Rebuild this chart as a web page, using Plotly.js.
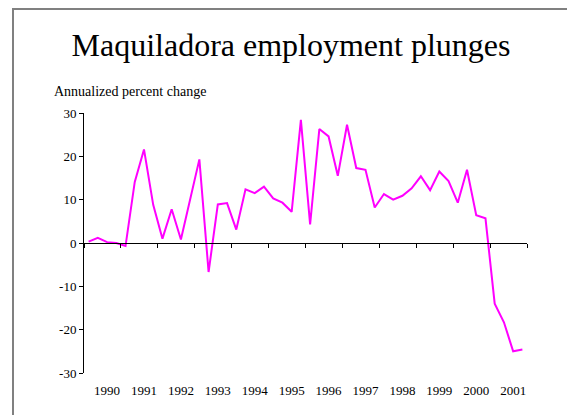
<!DOCTYPE html>
<html>
<head>
<meta charset="utf-8">
<script src="https://cdn.plot.ly/plotly-3.0.1.min.js"></script>
<style>
  html, body { margin: 0; padding: 0; background: #fff; }
  #wrap { position: relative; width: 567px; height: 415px; overflow: hidden; }
  #chart { width: 567px; height: 415px; }
  #frame { position: absolute; left: 12px; top: 8px; width: 600px; height: 450px;
           border-left: 2px solid #808080; border-top: 2px solid #808080; pointer-events: none; }
</style>
</head>
<body>
<div id="wrap">
  <div id="chart"></div>
  <div id="frame"></div>
</div>
<script>
// Quarterly data, 1990Q1 .. 2001Q4 (annualized percent change)
const quarterIndex = [];
for (let i = 0; i < 48; i++) quarterIndex.push(i);

const pctChange = [
  0.3, 1.2, 0.2, 0.0,        // 1990
  -0.7, 14.1, 21.6, 8.8,     // 1991
  1.0, 7.8, 0.8, 10.0,       // 1992
  19.3, -6.7, 8.9, 9.2,      // 1993
  3.1, 12.4, 11.5, 13.0,     // 1994
  10.3, 9.3, 7.2, 28.4,      // 1995
  4.3, 26.3, 24.6, 15.5,     // 1996
  27.3, 17.3, 16.9, 8.2,     // 1997
  11.3, 10.0, 10.9, 12.6,    // 1998
  15.4, 12.2, 16.5, 14.3,    // 1999
  9.3, 16.9, 6.4, 5.7,       // 2000
  -14.0, -18.3, -25.0, -24.6 // 2001
];

const yearLabels = ['1990','1991','1992','1993','1994','1995','1996','1997','1998','1999','2000','2001'];
const yearLabelPos = [2, 6, 10, 14, 18, 22, 26, 30, 34, 38, 42, 46];
const yearBoundaries = [-0.5, 3.5, 7.5, 11.5, 15.5, 19.5, 23.5, 27.5, 31.5, 35.5, 39.5, 43.5, 47.5];
const yTickVals = [-30, -20, -10, 0, 10, 20, 30];
const yTickText = ['-30', '-20', '-10', '0', '10', '20', '30'];

const FONT = '"Liberation Serif", "Times New Roman", Times, serif';

const trace = {
  x: quarterIndex,
  y: pctChange,
  type: 'scatter',
  mode: 'lines',
  line: { color: '#FF00FF', width: 2 },
  hoverinfo: 'skip',
  xaxis: 'x',
  yaxis: 'y'
};

const layout = {
  width: 567,
  height: 415,
  margin: { l: 84, r: 40, t: 113, b: 42 },
  paper_bgcolor: '#ffffff',
  plot_bgcolor: '#ffffff',
  showlegend: false,
  font: { family: FONT, color: '#000', size: 13 },
  title: {
    text: 'Maquiladora employment plunges',
    font: { family: FONT, size: 32, color: '#000' },
    xref: 'container', x: 291 / 567, xanchor: 'center',
    yref: 'container', y: 1 - 56 / 415, yanchor: 'bottom'
  },
  xaxis: {
    range: [-0.5, 47.5],
    tickmode: 'array',
    tickvals: yearLabelPos,
    ticktext: yearLabels,
    ticks: '',
    ticklabelstandoff: 8,
    showline: false,
    showgrid: false,
    zeroline: false,
    tickfont: { family: FONT, size: 13, color: '#000' },
    fixedrange: true
  },
  xaxis2: {
    overlaying: 'x',
    matches: 'x',
    anchor: 'free',
    position: 0.5,
    side: 'bottom',
    tickmode: 'array',
    tickvals: yearBoundaries,
    ticks: 'outside',
    ticklen: 4,
    tickwidth: 1,
    tickcolor: '#000',
    showticklabels: false,
    showline: true,
    linecolor: '#000',
    linewidth: 1,
    showgrid: false,
    zeroline: false
  },
  yaxis: {
    range: [-30, 30],
    tickmode: 'array',
    tickvals: yTickVals,
    ticktext: yTickText,
    ticks: 'outside',
    ticklen: 4,
    tickwidth: 1,
    tickcolor: '#000',
    showline: true,
    linecolor: '#000',
    linewidth: 1,
    showgrid: false,
    zeroline: false,
    tickfont: { family: FONT, size: 13, color: '#000' },
    fixedrange: true
  },
  annotations: [{
    text: 'Annualized percent change',
    xref: 'paper', x: (52 - 84) / 443, xanchor: 'left',
    yref: 'paper', y: (373 - 91.5) / 260, yanchor: 'middle',
    showarrow: false,
    font: { family: FONT, size: 14, color: '#000' }
  }]
};

// dummy trace to activate xaxis2
const axisTrace = {
  x: [-0.5], y: [0], type: 'scatter', mode: 'markers',
  marker: { opacity: 0 }, hoverinfo: 'skip', xaxis: 'x2', yaxis: 'y'
};

Plotly.newPlot('chart', [trace, axisTrace], layout, { staticPlot: true, displayModeBar: false });
</script>
</body>
</html>
